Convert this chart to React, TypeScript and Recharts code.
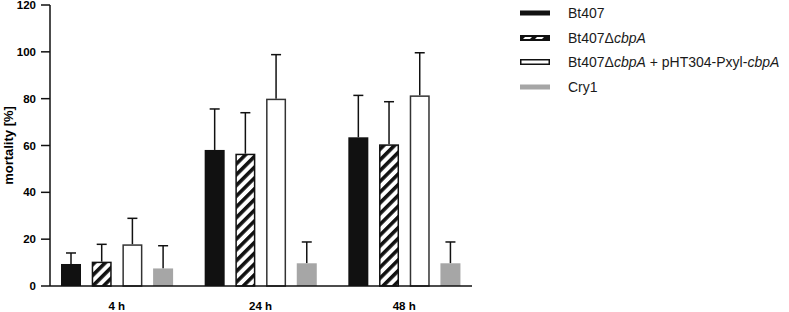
import React from 'react'
import { BarChart, Bar, XAxis, YAxis, Legend } from 'recharts'

const timepoints = ['4 h', '24 h', '48 h']
const bt407 = [9.4, 58.1, 63.5]
const bt407Err = [4.7, 17.5, 17.9]
const delta = [10.4, 56.5, 60.5]
const deltaErr = [7.4, 17.5, 18.2]
const complemented = [17.8, 80.0, 81.4]
const complementedErr = [11.1, 18.8, 18.2]
const cry1 = [7.5, 9.7, 9.7]
const cry1Err = [9.7, 9.1, 9.1]
const yTicks = [0, 20, 40, 60, 80, 100, 120]

const data = timepoints.map((t, i) => ({
  time: t,
  bt407: bt407[i], bt407Err: bt407Err[i],
  delta: delta[i], deltaErr: deltaErr[i],
  comp: complemented[i], compErr: complementedErr[i],
  cry1: cry1[i], cry1Err: cry1Err[i],
}))

const FONT = 'Liberation Sans, Arial, sans-serif'
const INK = '#111'
const GRAY = '#a6a6a6'

// bar with an upper-only error bar drawn from the bar's own scale
const barWithError = (errKey: string, fill: string, stroke?: string) => (props: any) => {
  const { x, y, width, height, value, payload } = props
  const err = payload[errKey]
  const pxPerUnit = value ? height / value : 0
  const top = y - err * pxPerUnit
  const cx = x + width / 2
  return (
    <g>
      <line x1={cx} x2={cx} y1={y} y2={top} stroke={INK} strokeWidth={1.5} />
      <line x1={cx - 5} x2={cx + 5} y1={top} y2={top} stroke={INK} strokeWidth={1.5} />
      <rect
        x={stroke ? x + 0.75 : x}
        y={stroke ? y + 0.75 : y}
        width={stroke ? width - 1.5 : width}
        height={stroke ? height - 0.75 : height}
        fill={fill}
        stroke={stroke || 'none'}
        strokeWidth={1.5}
      />
    </g>
  )
}

const legendItems = [
  { key: 'bt407', label: <>Bt407</> },
  { key: 'delta', label: <>Bt407Δ<i>cbpA</i></> },
  { key: 'comp', label: <>Bt407Δ<i>cbpA</i> + pHT304-Pxyl-<i>cbpA</i></> },
  { key: 'cry1', label: <>Cry1</> },
]

const Swatch = ({ kind }: { kind: string }) => {
  if (kind === 'bt407') return <svg width={30} height={6}><rect x={0} y={0.5} width={30} height={5} fill={INK} /></svg>
  if (kind === 'cry1') return <svg width={30} height={6}><rect x={0} y={0.5} width={30} height={5} fill={GRAY} /></svg>
  if (kind === 'delta')
    return (
      <svg width={30} height={6}>
        <rect x={0.75} y={0.75} width={28.5} height={4.5} fill={INK} stroke={INK} strokeWidth={1.5} />
        <polygon points="5,2 12,2 10,4 3,4" fill="#fff" />
        <polygon points="17,2 24,2 22,4 15,4" fill="#fff" />
      </svg>
    )
  return <svg width={30} height={6}><rect x={0.75} y={0.75} width={28.5} height={4.5} fill="#fff" stroke={INK} strokeWidth={1.5} /></svg>
}

const renderLegend = () => (
  <div style={{ fontFamily: FONT, fontSize: 14, color: '#1a1a1a' }}>
    {legendItems.map((it) => (
      <div key={it.key} style={{ display: 'flex', alignItems: 'center', height: 24.5 }}>
        <Swatch kind={it.key} />
        <span style={{ marginLeft: 18 }}>{it.label}</span>
      </div>
    ))}
  </div>
)

export default function App() {
  return (
    <div style={{ position: 'absolute', left: 0, top: 0, background: '#fff' }}>
      <BarChart
        width={789}
        height={312}
        data={data}
        margin={{ top: 5, right: 317, bottom: 0, left: 0 }}
        barSize={20}
        barGap={10.7}
      >
        <defs>
          <pattern id="hatch" patternUnits="userSpaceOnUse" width={7.6} height={7.6} patternTransform="rotate(45)">
            <rect x={0} y={0} width={7.6} height={7.6} fill="#fff" />
            <rect x={0} y={0} width={3.6} height={7.6} fill={INK} />
          </pattern>
        </defs>
        <XAxis
          dataKey="time"
          padding={{ left: -5, right: -4 }}
          height={26}
          axisLine={{ stroke: INK, strokeWidth: 1.5 }}
          tickLine={false}
          tickSize={8}
          tickMargin={8}
          tick={{ fill: '#000', fontSize: 11.5, fontWeight: 'bold', fontFamily: FONT }}
        />
        <YAxis
          width={50}
          domain={[0, 120]}
          ticks={yTicks}
          interval={0}
          axisLine={{ stroke: INK, strokeWidth: 1.5 }}
          tickLine={{ stroke: INK, strokeWidth: 1.5 }}
          tickSize={9}
          tickMargin={5}
          tick={{ fill: '#000', fontSize: 11.5, fontWeight: 'bold', fontFamily: FONT }}
          label={({ viewBox }: any) => (
            <text
              x={13}
              y={viewBox.y + viewBox.height / 2}
              transform={`rotate(-90 13 ${viewBox.y + viewBox.height / 2})`}
              textAnchor="middle"
              fontFamily={FONT}
              fontSize={13}
              fontWeight="bold"
              fill="#000"
            >
              mortality [%]
            </text>
          )}
        />
        <Legend
          layout="vertical"
          align="center"
          verticalAlign="middle"
          content={renderLegend}
          wrapperStyle={{ position: 'absolute', left: 520, top: 1, width: 269 }}
        />
        <Bar dataKey="bt407" name="Bt407" isAnimationActive={false} shape={barWithError('bt407Err', INK)} />
        <Bar dataKey="delta" name="Bt407ΔcbpA" isAnimationActive={false} shape={barWithError('deltaErr', 'url(#hatch)', INK)} />
        <Bar dataKey="comp" name="complemented" isAnimationActive={false} shape={barWithError('compErr', '#fff', '#333')} />
        <Bar dataKey="cry1" name="Cry1" isAnimationActive={false} shape={barWithError('cry1Err', GRAY)} />
      </BarChart>
    </div>
  )
}
